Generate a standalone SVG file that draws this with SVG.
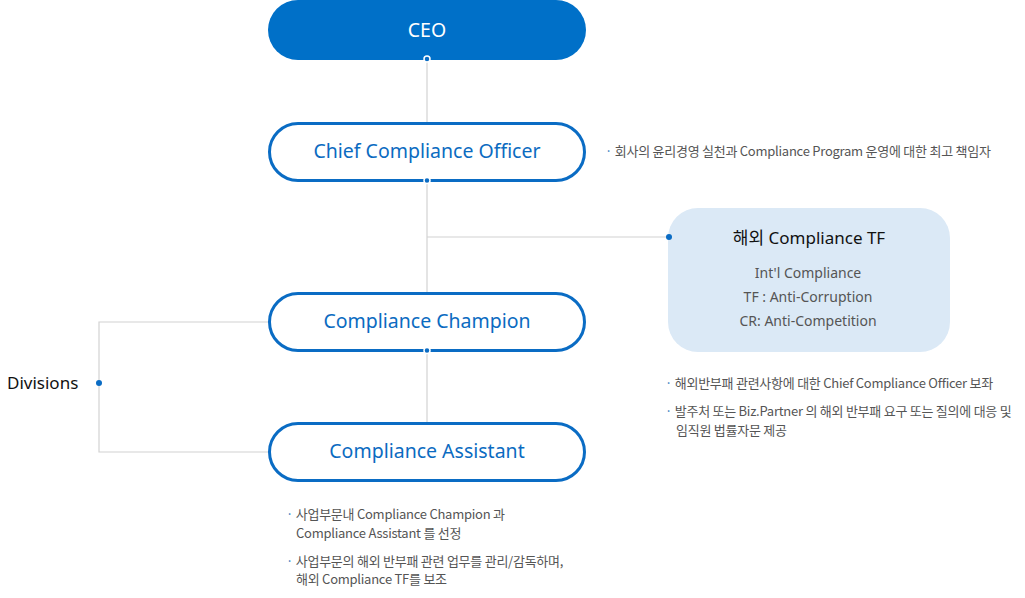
<svg xmlns="http://www.w3.org/2000/svg" width="1025" height="598" viewBox="0 0 1025 598">
<style>
.pill{fill:#fff;stroke:#0a6cc4;stroke-width:3}
.ntx{font-family:"Noto Sans","Noto Sans CJK KR",sans-serif;font-size:19.5px;fill:#0b6bc1;text-anchor:middle;dominant-baseline:central}
.conn{fill:none;stroke:#d2d2d2;stroke-width:1.2}
.dot{fill:#0a6cc4;stroke:#fff;stroke-width:1.5}
.note{font-family:"Noto Sans CJK KR","Noto Sans",sans-serif;font-size:13px;fill:#555;letter-spacing:-0.25px;dominant-baseline:central}
.bul{fill:#3a7cc0}
.tf{font-family:"Noto Sans","Noto Sans CJK KR",sans-serif;font-size:14px;fill:#555;text-anchor:middle;dominant-baseline:central}
</style>
<g id="connectors">
<path class="conn" d="M427 59V122"/>
<path class="conn" d="M427 181V293"/>
<path class="conn" d="M427 237H669"/>
<path class="conn" d="M427 350V422"/>
<path class="conn" d="M268 322H99V452H268"/>
</g>
<g id="ceo">
<rect x="268" y="0" width="318" height="60" rx="30" fill="#0070c8"/>
<text x="427" y="29" class="ntx" style="fill:#fff">CEO</text>
<circle class="dot" cx="427" cy="59" r="3"/>
</g>
<g id="cco">
<rect class="pill" x="269.5" y="123.5" width="315" height="57" rx="28.5"/>
<text x="427" y="150" class="ntx">Chief Compliance Officer</text>
<circle class="dot" cx="427" cy="180.5" r="3"/>
</g>
<g id="cco-note">
<text x="605" y="150" class="note"><tspan class="bul">·</tspan> 회사의 윤리경영 실천과 Compliance Program 운영에 대한 최고 책임자</text>
</g>
<g id="tf">
<rect x="668" y="208" width="282" height="144" rx="30" fill="#dbe9f6"/>
<circle class="dot" cx="669" cy="237" r="3" style="stroke:none"/>
<text x="809" y="237" class="tf" style="font-size:17px;fill:#111">해외 Compliance TF</text>
<text x="808" y="272" class="tf">Int'l Compliance</text>
<text x="808" y="296" class="tf">TF : Anti-Corruption</text>
<text x="808" y="320" class="tf">CR: Anti-Competition</text>
</g>
<g id="tf-note">
<text x="665" y="382" class="note"><tspan class="bul">·</tspan> 해외반부패 관련사항에 대한 Chief Compliance Officer 보좌</text>
<text x="665" y="410" class="note"><tspan class="bul">·</tspan> 발주처 또는 Biz.Partner 의 해외 반부패 요구 또는 질의에 대응 및</text>
<text x="676" y="429" class="note">임직원 법률자문 제공</text>
</g>
<g id="champion">
<rect class="pill" x="269.5" y="293.5" width="315" height="57" rx="28.5"/>
<text x="427" y="320" class="ntx">Compliance Champion</text>
<circle class="dot" cx="427" cy="350.5" r="3"/>
</g>
<g id="assistant">
<rect class="pill" x="269.5" y="423.5" width="315" height="57" rx="28.5"/>
<text x="427" y="450" class="ntx">Compliance Assistant</text>
</g>
<g id="divisions">
<text x="7" y="382" style="font-family:'Noto Sans',sans-serif;font-size:17px;fill:#111;dominant-baseline:central">Divisions</text>
<circle class="dot" cx="99" cy="383" r="3" style="stroke:none"/>
</g>
<g id="div-note">
<text x="286" y="513" class="note"><tspan class="bul">·</tspan> 사업부문내 Compliance Champion 과</text>
<text x="296" y="532" class="note">Compliance Assistant 를 선정</text>
<text x="286" y="560" class="note"><tspan class="bul">·</tspan> 사업부문의 해외 반부패 관련 업무를 관리/감독하며,</text>
<text x="296" y="578" class="note">해외 Compliance TF를 보조</text>
</g>
</svg>
